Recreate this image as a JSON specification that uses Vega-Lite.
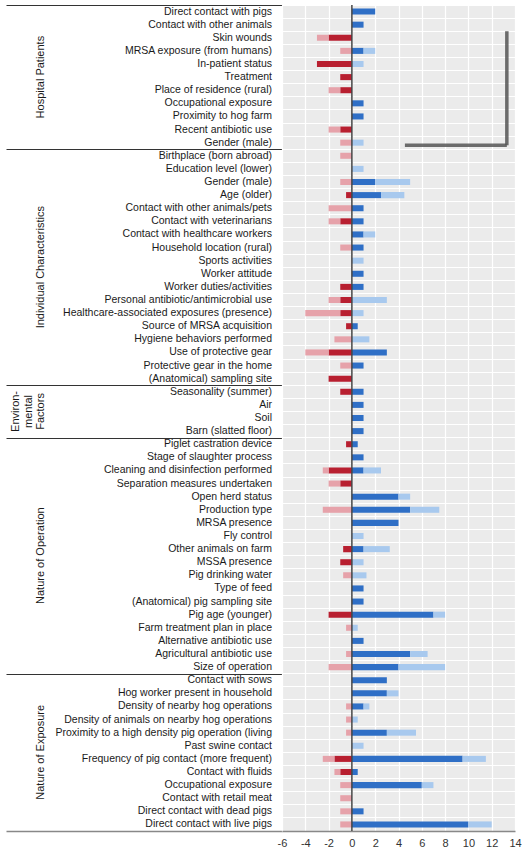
{
  "$schema": "https://vega.github.io/schema/vega-lite/v6.json",
  "padding": {"left": 6, "top": 4, "right": 0, "bottom": 0},
  "background": "white",
  "bounds": "flush",
  "spacing": 0,
  "config": {
    "font": "Liberation Sans",
    "view": {"stroke": null},
    "concat": {"spacing": 0},
    "axis": {"labelOverlap": false, "labelSeparation": 0}
  },
  "datasets": {
    "rows": [
      {"row": 1, "group": "Hospital Patients", "label": "Direct contact with pigs", "neg_sig": 0, "neg_ns": 0, "pos_sig": 2, "pos_ns": 0},
      {"row": 2, "group": "Hospital Patients", "label": "Contact with other animals", "neg_sig": 0, "neg_ns": 0, "pos_sig": 1, "pos_ns": 0},
      {"row": 3, "group": "Hospital Patients", "label": "Skin wounds", "neg_sig": -2, "neg_ns": -1, "pos_sig": 0, "pos_ns": 0},
      {"row": 4, "group": "Hospital Patients", "label": "MRSA exposure (from humans)", "neg_sig": 0, "neg_ns": -1, "pos_sig": 1, "pos_ns": 1},
      {"row": 5, "group": "Hospital Patients", "label": "In-patient status", "neg_sig": -3, "neg_ns": 0, "pos_sig": 0, "pos_ns": 1},
      {"row": 6, "group": "Hospital Patients", "label": "Treatment", "neg_sig": -1, "neg_ns": 0, "pos_sig": 0, "pos_ns": 0},
      {"row": 7, "group": "Hospital Patients", "label": "Place of residence (rural)", "neg_sig": -1, "neg_ns": -1, "pos_sig": 0, "pos_ns": 0},
      {"row": 8, "group": "Hospital Patients", "label": "Occupational exposure", "neg_sig": 0, "neg_ns": 0, "pos_sig": 1, "pos_ns": 0},
      {"row": 9, "group": "Hospital Patients", "label": "Proximity to hog farm", "neg_sig": 0, "neg_ns": 0, "pos_sig": 1, "pos_ns": 0},
      {"row": 10, "group": "Hospital Patients", "label": "Recent antibiotic use", "neg_sig": -1, "neg_ns": -1, "pos_sig": 0, "pos_ns": 0},
      {"row": 11, "group": "Hospital Patients", "label": "Gender (male)", "neg_sig": 0, "neg_ns": -1, "pos_sig": 0, "pos_ns": 1},
      {"row": 12, "group": "Individual Characteristics", "label": "Birthplace (born abroad)", "neg_sig": 0, "neg_ns": -1, "pos_sig": 0, "pos_ns": 0},
      {"row": 13, "group": "Individual Characteristics", "label": "Education level (lower)", "neg_sig": 0, "neg_ns": 0, "pos_sig": 0, "pos_ns": 1},
      {"row": 14, "group": "Individual Characteristics", "label": "Gender (male)", "neg_sig": 0, "neg_ns": -1, "pos_sig": 2, "pos_ns": 3},
      {"row": 15, "group": "Individual Characteristics", "label": "Age (older)", "neg_sig": -0.5, "neg_ns": 0, "pos_sig": 2.5, "pos_ns": 2},
      {"row": 16, "group": "Individual Characteristics", "label": "Contact with other animals/pets", "neg_sig": 0, "neg_ns": -2, "pos_sig": 1, "pos_ns": 0},
      {"row": 17, "group": "Individual Characteristics", "label": "Contact with veterinarians", "neg_sig": -1, "neg_ns": -1, "pos_sig": 1, "pos_ns": 0},
      {"row": 18, "group": "Individual Characteristics", "label": "Contact with healthcare workers", "neg_sig": 0, "neg_ns": 0, "pos_sig": 1, "pos_ns": 1},
      {"row": 19, "group": "Individual Characteristics", "label": "Household location (rural)", "neg_sig": 0, "neg_ns": -1, "pos_sig": 1, "pos_ns": 0},
      {"row": 20, "group": "Individual Characteristics", "label": "Sports activities", "neg_sig": 0, "neg_ns": 0, "pos_sig": 0, "pos_ns": 1},
      {"row": 21, "group": "Individual Characteristics", "label": "Worker attitude", "neg_sig": 0, "neg_ns": 0, "pos_sig": 1, "pos_ns": 0},
      {"row": 22, "group": "Individual Characteristics", "label": "Worker duties/activities", "neg_sig": -1, "neg_ns": 0, "pos_sig": 1, "pos_ns": 0},
      {"row": 23, "group": "Individual Characteristics", "label": "Personal antibiotic/antimicrobial use", "neg_sig": -1, "neg_ns": -1, "pos_sig": 0, "pos_ns": 3},
      {"row": 24, "group": "Individual Characteristics", "label": "Healthcare-associated exposures (presence)", "neg_sig": -1, "neg_ns": -3, "pos_sig": 0, "pos_ns": 1},
      {"row": 25, "group": "Individual Characteristics", "label": "Source of MRSA acquisition", "neg_sig": -0.5, "neg_ns": 0, "pos_sig": 0.5, "pos_ns": 0},
      {"row": 26, "group": "Individual Characteristics", "label": "Hygiene behaviors performed", "neg_sig": 0, "neg_ns": -1.5, "pos_sig": 0, "pos_ns": 1.5},
      {"row": 27, "group": "Individual Characteristics", "label": "Use of protective gear", "neg_sig": -2, "neg_ns": -2, "pos_sig": 3, "pos_ns": 0},
      {"row": 28, "group": "Individual Characteristics", "label": "Protective gear in the home", "neg_sig": 0, "neg_ns": -1, "pos_sig": 1, "pos_ns": 0},
      {"row": 29, "group": "Individual Characteristics", "label": "(Anatomical) sampling site", "neg_sig": -2, "neg_ns": 0, "pos_sig": 0, "pos_ns": 0},
      {"row": 30, "group": "Environ-\nmental\nFactors", "label": "Seasonality (summer)", "neg_sig": -1, "neg_ns": 0, "pos_sig": 1, "pos_ns": 0},
      {"row": 31, "group": "Environ-\nmental\nFactors", "label": "Air", "neg_sig": 0, "neg_ns": 0, "pos_sig": 1, "pos_ns": 0},
      {"row": 32, "group": "Environ-\nmental\nFactors", "label": "Soil", "neg_sig": 0, "neg_ns": 0, "pos_sig": 1, "pos_ns": 0},
      {"row": 33, "group": "Environ-\nmental\nFactors", "label": "Barn (slatted floor)", "neg_sig": 0, "neg_ns": 0, "pos_sig": 1, "pos_ns": 0},
      {"row": 34, "group": "Nature of Operation", "label": "Piglet castration device", "neg_sig": -0.5, "neg_ns": 0, "pos_sig": 0.5, "pos_ns": 0},
      {"row": 35, "group": "Nature of Operation", "label": "Stage of slaughter process", "neg_sig": 0, "neg_ns": 0, "pos_sig": 1, "pos_ns": 0},
      {"row": 36, "group": "Nature of Operation", "label": "Cleaning and disinfection performed", "neg_sig": -2, "neg_ns": -0.5, "pos_sig": 1, "pos_ns": 1.5},
      {"row": 37, "group": "Nature of Operation", "label": "Separation measures undertaken", "neg_sig": -1, "neg_ns": -1, "pos_sig": 0, "pos_ns": 0},
      {"row": 38, "group": "Nature of Operation", "label": "Open herd status", "neg_sig": 0, "neg_ns": 0, "pos_sig": 4, "pos_ns": 1},
      {"row": 39, "group": "Nature of Operation", "label": "Production type", "neg_sig": 0, "neg_ns": -2.5, "pos_sig": 5, "pos_ns": 2.5},
      {"row": 40, "group": "Nature of Operation", "label": "MRSA presence", "neg_sig": 0, "neg_ns": 0, "pos_sig": 4, "pos_ns": 0},
      {"row": 41, "group": "Nature of Operation", "label": "Fly control", "neg_sig": 0, "neg_ns": 0, "pos_sig": 0, "pos_ns": 1},
      {"row": 42, "group": "Nature of Operation", "label": "Other animals on farm", "neg_sig": -0.75, "neg_ns": 0, "pos_sig": 1, "pos_ns": 2.25},
      {"row": 43, "group": "Nature of Operation", "label": "MSSA presence", "neg_sig": -1, "neg_ns": 0, "pos_sig": 0, "pos_ns": 1},
      {"row": 44, "group": "Nature of Operation", "label": "Pig drinking water", "neg_sig": 0, "neg_ns": -0.75, "pos_sig": 0, "pos_ns": 1.25},
      {"row": 45, "group": "Nature of Operation", "label": "Type of feed", "neg_sig": 0, "neg_ns": 0, "pos_sig": 1, "pos_ns": 0},
      {"row": 46, "group": "Nature of Operation", "label": "(Anatomical) pig sampling site", "neg_sig": 0, "neg_ns": 0, "pos_sig": 1, "pos_ns": 0},
      {"row": 47, "group": "Nature of Operation", "label": "Pig age (younger)", "neg_sig": -2, "neg_ns": 0, "pos_sig": 7, "pos_ns": 1},
      {"row": 48, "group": "Nature of Operation", "label": "Farm treatment plan in place", "neg_sig": 0, "neg_ns": -0.5, "pos_sig": 0, "pos_ns": 0.5},
      {"row": 49, "group": "Nature of Operation", "label": "Alternative antibiotic use", "neg_sig": 0, "neg_ns": 0, "pos_sig": 1, "pos_ns": 0},
      {"row": 50, "group": "Nature of Operation", "label": "Agricultural antibiotic use", "neg_sig": 0, "neg_ns": -0.5, "pos_sig": 5, "pos_ns": 1.5},
      {"row": 51, "group": "Nature of Operation", "label": "Size of operation", "neg_sig": 0, "neg_ns": -2, "pos_sig": 4, "pos_ns": 4},
      {"row": 52, "group": "Nature of Exposure", "label": "Contact with sows", "neg_sig": 0, "neg_ns": 0, "pos_sig": 3, "pos_ns": 0},
      {"row": 53, "group": "Nature of Exposure", "label": "Hog worker present in household", "neg_sig": 0, "neg_ns": 0, "pos_sig": 3, "pos_ns": 1},
      {"row": 54, "group": "Nature of Exposure", "label": "Density of nearby hog operations", "neg_sig": 0, "neg_ns": -0.5, "pos_sig": 1, "pos_ns": 0.5},
      {"row": 55, "group": "Nature of Exposure", "label": "Density of animals on nearby hog operations", "neg_sig": 0, "neg_ns": -0.5, "pos_sig": 0, "pos_ns": 0.5},
      {"row": 56, "group": "Nature of Exposure", "label": "Proximity to a high density pig operation (living", "neg_sig": 0, "neg_ns": -0.5, "pos_sig": 3, "pos_ns": 2.5},
      {"row": 57, "group": "Nature of Exposure", "label": "Past swine contact", "neg_sig": 0, "neg_ns": 0, "pos_sig": 0, "pos_ns": 1},
      {"row": 58, "group": "Nature of Exposure", "label": "Frequency of pig contact (more frequent)", "neg_sig": -1.5, "neg_ns": -1, "pos_sig": 9.5, "pos_ns": 2},
      {"row": 59, "group": "Nature of Exposure", "label": "Contact with fluids", "neg_sig": -1, "neg_ns": -0.5, "pos_sig": 0.5, "pos_ns": 0},
      {"row": 60, "group": "Nature of Exposure", "label": "Occupational exposure", "neg_sig": 0, "neg_ns": -1, "pos_sig": 6, "pos_ns": 1},
      {"row": 61, "group": "Nature of Exposure", "label": "Contact with retail meat", "neg_sig": 0, "neg_ns": -1, "pos_sig": 0, "pos_ns": 0},
      {"row": 62, "group": "Nature of Exposure", "label": "Direct contact with dead pigs", "neg_sig": 0, "neg_ns": -1, "pos_sig": 1, "pos_ns": 0},
      {"row": 63, "group": "Nature of Exposure", "label": "Direct contact with live pigs", "neg_sig": 0, "neg_ns": -1, "pos_sig": 10, "pos_ns": 2}
    ]
  },
  "hconcat": [
    {
      "width": 276,
      "height": 826,
      "data": {"name": "rows"},
      "layer": [
        {
          "mark": {"type": "text", "align": "right", "baseline": "middle", "dx": -10, "fontSize": 10.5, "color": "#1a1a1a"},
          "encoding": {
            "y": {
              "field": "row",
              "type": "quantitative",
              "scale": {"domain": [0.5, 63.5], "reverse": true, "nice": false, "zero": false},
              "axis": {
                "values": [0.5, 11.5, 29.5, 33.5, 51.5, 63.5],
                "grid": true,
                "labels": false,
                "ticks": false,
                "domain": false,
                "title": null,
                "gridColor": {"condition": {"test": "datum.value === 63.5", "value": "#888888"}, "value": "#333333"},
                "gridWidth": {"condition": {"test": "datum.value === 63.5", "value": 1.5}, "value": 1}
              }
            },
            "x": {"value": "width"},
            "text": {"field": "label"}
          }
        },
        {
          "mark": {
            "type": "text",
            "angle": 270,
            "align": "center",
            "baseline": "bottom",
            "fontSize": 11,
            "lineBreak": "\n",
            "lineHeight": 12.5,
            "color": "#1a1a1a",
            "dy": {"expr": "indexof(datum.group, '\\n') >= 0 ? -25 : 0"}
          },
          "encoding": {
            "y": {"aggregate": "mean", "field": "row", "type": "quantitative"},
            "x": {"datum": 0.145, "type": "quantitative", "scale": {"domain": [0, 1]}, "axis": null},
            "text": {"field": "group"}
          }
        }
      ]
    },
    {
      "width": 233,
      "height": 826,
      "view": {"fill": "#ebebeb", "stroke": null},
      "layer": [
        {
          "data": {"name": "rows"},
          "transform": [
            {"fold": ["neg_sig", "neg_ns", "pos_sig", "pos_ns"], "as": ["kind", "count"]},
            {"filter": "datum.count != 0"}
          ],
          "mark": {"type": "bar", "height": {"band": 0.46}},
          "encoding": {
            "y": {
              "field": "row",
              "type": "ordinal",
              "scale": {"paddingInner": 0, "paddingOuter": 0},
              "axis": {"labels": false, "ticks": false, "domain": false, "title": null, "grid": true, "gridColor": "white", "gridWidth": 1, "bandPosition": 0}
            },
            "x": {
              "field": "count",
              "type": "quantitative",
              "stack": "zero",
              "scale": {"domain": [-6, 14], "nice": false},
              "axis": {
                "tickCount": 10,
                "labelExpr": "'' + datum.value",
                "title": null,
                "ticks": false,
                "labelFontSize": 11,
                "labelColor": "#333333",
                "labelPadding": 6,
                "labelFlush": false,
                "labelOverlap": false,
                "labelBound": false,
                "gridColor": "white",
                "gridWidth": 1.2,
                "domainColor": "#888888",
                "domainWidth": 1.5
              }
            },
            "color": {
              "field": "kind",
              "type": "nominal",
              "scale": {"domain": ["neg_sig", "neg_ns", "pos_sig", "pos_ns"], "range": ["#b81f30", "#e6a2aa", "#2f6fc6", "#a8c9ee"]},
              "legend": null
            },
            "order": {"field": "kind", "sort": "descending"}
          }
        },
        {
          "data": {"values": [{}]},
          "mark": {"type": "rule", "color": "#555555", "strokeWidth": 3.5, "opacity": 0.85},
          "encoding": {
            "x": {"datum": 4.55},
            "x2": {"datum": 13.3},
            "y": {"datum": 11, "type": "ordinal", "bandPosition": 0.7}
          }
        },
        {
          "data": {"values": [{}]},
          "mark": {"type": "rule", "color": "#555555", "strokeWidth": 3.5, "opacity": 0.85},
          "encoding": {
            "x": {"datum": 13.3},
            "y": {"datum": 3, "type": "ordinal", "bandPosition": 0},
            "y2": {"datum": 11, "bandPosition": 0.7}
          }
        },
        {
          "data": {"values": [{}]},
          "mark": {"type": "rule", "color": "#444444", "strokeWidth": 1.5},
          "encoding": {"x": {"datum": 0}}
        }
      ]
    }
  ]
}
